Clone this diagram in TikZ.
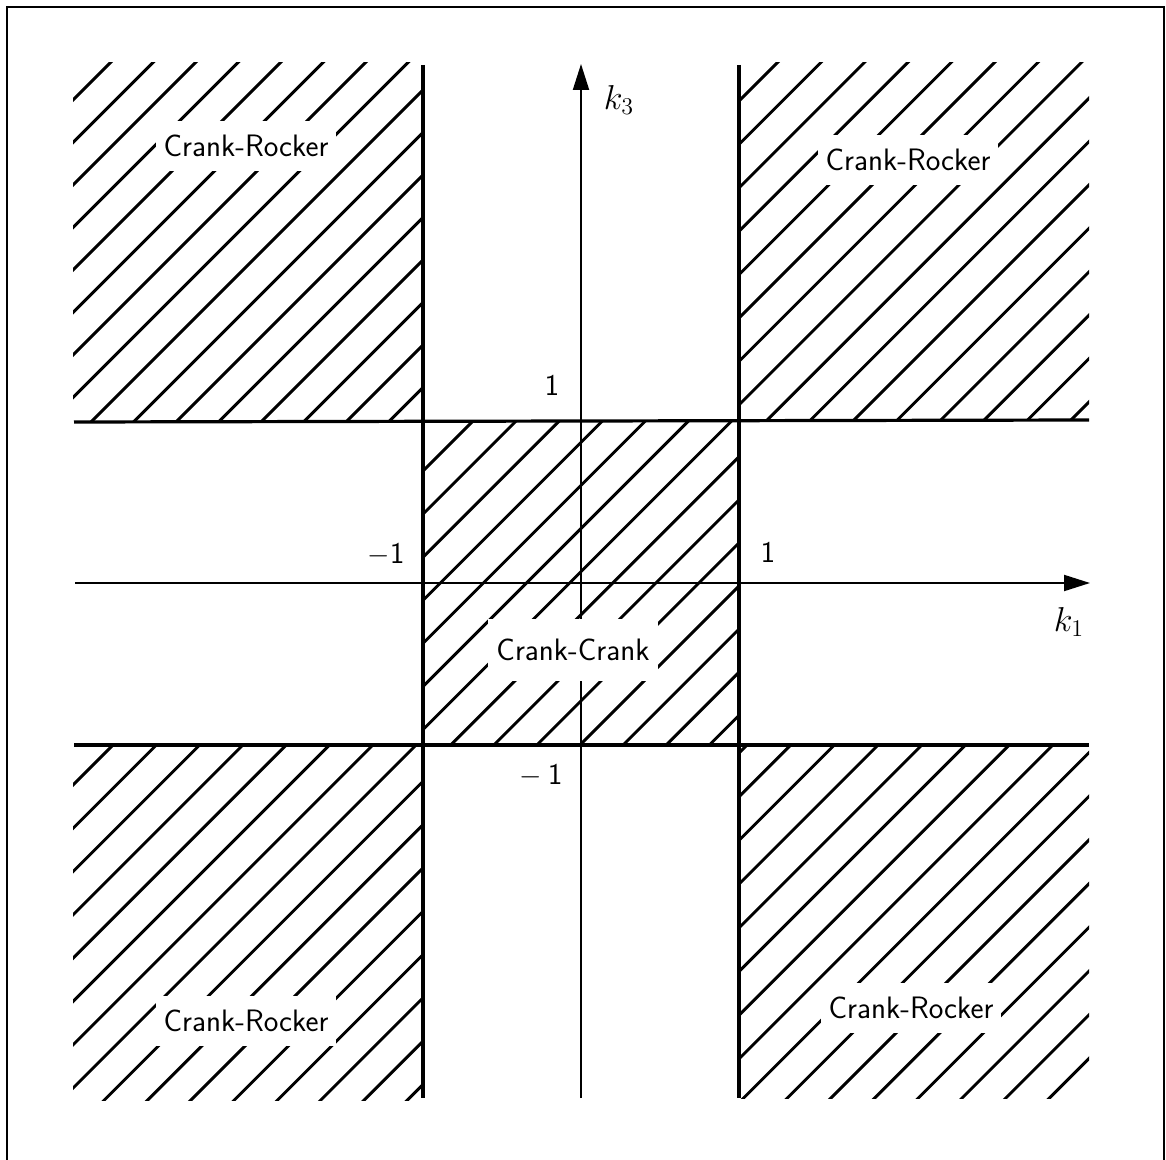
\documentclass[tikz,border=0pt]{standalone}
\usetikzlibrary{arrows.meta}
\newcommand\myhatch[7]{%
  \begin{scope}
    \clip (#1,#2) rectangle (#3,#4);
    \foreach \k in {0,...,#7}{
      \pgfmathsetmacro\uu{#5+\k*#6}
      \draw[hatch] (\uu-#4-10,#4+10) -- (\uu-#2+10,#2-10);
    }
  \end{scope}}
\begin{document}
\begin{tikzpicture}[x=0.5pt,y=-0.5pt,
  bound/.style={line width=1.6pt},
  axis/.style={line width=1pt,-{Triangle[length=13pt,width=8pt]}},
  hatch/.style={line width=1.45pt,line cap=round},
  frame/.style={line width=0.8pt},
  region/.style={fill=white,inner xsep=4pt,inner ysep=7pt,font=\fontsize{15.5}{18}\selectfont\sffamily},
  num/.style={font=\fontsize{15}{18}\selectfont\sffamily,inner sep=0pt},
  axlabel/.style={font=\fontsize{17.28}{20}\selectfont,inner sep=0pt}]
\useasboundingbox (0,0) rectangle (1166,1160);
% frame (bottom edge lies outside the picture)
\coordinate (f1) at (7,1175);
\coordinate (f2) at (7,7);
\coordinate (f3) at (1164,7);
\coordinate (f4) at (1164,1175);
\draw[frame] (f1) -- (f2) -- (f3) -- (f4);
% hatching
\myhatch{73}{63}{423}{422}{173}{42.5}{15}
\myhatch{739}{63}{1089}{419}{840}{43.4}{15}
\myhatch{423}{422}{739}{745}{894}{43.1}{13}
\myhatch{73}{745}{423}{1100}{858}{43.3}{15}
\myhatch{739}{745}{1089}{1098}{1492}{43.7}{15}
% boundary lines
\coordinate (v1t) at (423,65);  \coordinate (v1b) at (423,1098);
\coordinate (v2t) at (739,65);  \coordinate (v2b) at (739,1098);
\coordinate (h1l) at (74,422);  \coordinate (h1r) at (1089,420);
\coordinate (h2l) at (74,745);  \coordinate (h2r) at (1089,745);
\draw[bound] (v1t) -- (v1b);
\draw[bound] (v2t) -- (v2b);
\draw[bound] (h1l) -- (h1r);
\draw[bound] (h2l) -- (h2r);
% axes
\coordinate (xs) at (75,583);  \coordinate (xe) at (1090,583);
\coordinate (ys) at (581,1098); \coordinate (ye) at (581,64);
\draw[axis] (xs) -- (xe);
\draw[axis] (ys) -- (ye);
% region labels
\node[region] (tl) at (246,146) {Crank-Rocker};
\node[region] (tr) at (908,160) {Crank-Rocker};
\node[region] (bl) at (246,1021) {Crank-Rocker};
\node[region] (br) at (911,1008) {Crank-Rocker};
\node[region,inner ysep=10pt] (cc) at (573,650) {Crank-Crank};
% tick labels
\node[num] (n1) at (552,385) {1};
\node[num] (n2) at (386,555) {$-$1};
\node[num] (n3) at (768,552) {1};
\node[num] (n4) at (541,776) {$-$\hspace{3pt}1};
\node[axlabel] (k3) at (619,100) {$k_3$};
\node[axlabel] (k1) at (1069,622) {$k_1$};
\end{tikzpicture}
\end{document}
